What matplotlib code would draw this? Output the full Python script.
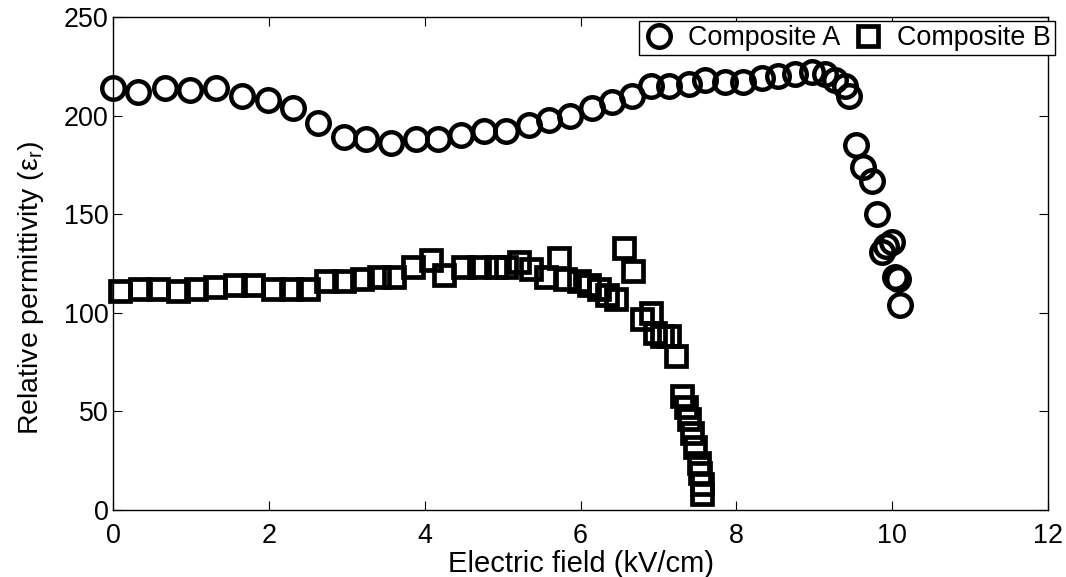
import matplotlib
matplotlib.use("Agg")
import matplotlib.pyplot as plt

# Composite A (circles)
field_a = [0, 0.32, 0.67, 0.99, 1.32, 1.65, 1.99, 2.31, 2.63, 2.97, 3.25, 3.57,
           3.89, 4.17, 4.46, 4.76, 5.04, 5.34, 5.6, 5.87, 6.15, 6.41, 6.66, 6.9,
           7.13, 7.39, 7.6, 7.86, 8.09, 8.33, 8.54, 8.75, 8.97, 9.14, 9.27, 9.39,
           9.44, 9.54, 9.63, 9.74, 9.81, 9.87, 9.92, 10.0, 10.04, 10.08, 10.1]
perm_a = [214, 212, 214, 213, 214, 210, 208, 204, 196, 189, 188, 186,
          188, 188, 190, 192, 192, 195, 198, 200, 204, 207, 210, 215,
          215, 216, 218, 217, 217, 219, 220, 221, 222, 221, 218, 215,
          210, 185, 174, 167, 150, 131, 134, 136, 118, 117, 104]

# Composite B (squares)
field_b = [0.09, 0.35, 0.58, 0.84, 1.07, 1.31, 1.56, 1.8, 2.05, 2.29, 2.5, 2.74,
           2.97, 3.2, 3.42, 3.61, 3.85, 4.08, 4.25, 4.49, 4.7, 4.91, 5.04, 5.21,
           5.36, 5.56, 5.72, 5.8, 5.98, 6.11, 6.24, 6.34, 6.45, 6.56, 6.68, 6.79,
           6.9, 6.96, 7.05, 7.13, 7.22, 7.3, 7.35, 7.39, 7.43, 7.47, 7.52, 7.54,
           7.56, 7.56]
perm_b = [111, 112, 112, 111, 112, 113, 114, 114, 112, 112, 112, 116,
          116, 117, 118, 118, 123, 127, 119, 123, 123, 123, 123, 126,
          122, 118, 128, 117, 116, 114, 112, 109, 107, 133, 121, 97,
          100, 90, 88, 88, 78, 58, 52, 46, 39, 32, 24, 19,
          13, 8]

x_ticks = [0, 2, 4, 6, 8, 10, 12]
y_ticks = [0, 50, 100, 150, 200, 250]
labels = ["Composite A", "Composite B"]

plt.rcParams['font.family'] = ['Liberation Sans', 'DejaVu Sans']
plt.rcParams['mathtext.fontset'] = 'custom'
plt.rcParams['mathtext.rm'] = 'Liberation Sans'
plt.rcParams['mathtext.it'] = 'Liberation Sans'

W, H = 1066, 577
fig = plt.figure(figsize=(W / 100, H / 100), dpi=100)
ax = fig.add_axes([113 / W, 1 - 510 / H, (1048 - 113) / W, (510 - 17) / H])

ax.plot(field_a, perm_a, linestyle='none', marker='o', ms=16.2, mew=3.2,
        mfc='none', mec='black', clip_on=False, label=labels[0])
ax.plot(field_b, perm_b, linestyle='none', marker='s', ms=14.8, mew=3.4,
        mfc='none', mec='black', clip_on=False, label=labels[1])

ax.set_xlim(0, 12)
ax.set_ylim(0, 250)
ax.set_xticks(x_ticks)
ax.set_yticks(y_ticks)
ax.set_xticklabels([str(t) for t in x_ticks])
ax.set_yticklabels([str(t) for t in y_ticks])
ax.tick_params(direction='in', length=6.5, width=0.8, top=True, right=True,
               labelsize=19.4, colors='black')
ax.tick_params(axis='x', pad=9.5)
ax.tick_params(axis='y', pad=3)
for s in ax.spines.values():
    s.set_linewidth(1.0)
    s.set_color('black')

ax.set_xlabel('Electric field (kV/cm)', fontsize=21, labelpad=0.5)
ax.set_ylabel('Relative permittivity (ε$_\\mathregular{r}$)', fontsize=20.5)
ax.yaxis.set_label_coords(-0.072, 0.45)

leg = ax.legend(loc='upper right', ncol=2, bbox_to_anchor=(1055 / W, 1 - 21 / H),
                bbox_transform=fig.transFigure, borderaxespad=0, borderpad=0.15,
                handlelength=1.2, handletextpad=0.5, columnspacing=0.4,
                fancybox=False, framealpha=1, edgecolor='black', fontsize=19.4)
leg.get_frame().set_linewidth(1.0)

fig.savefig('out.png', dpi=100)
